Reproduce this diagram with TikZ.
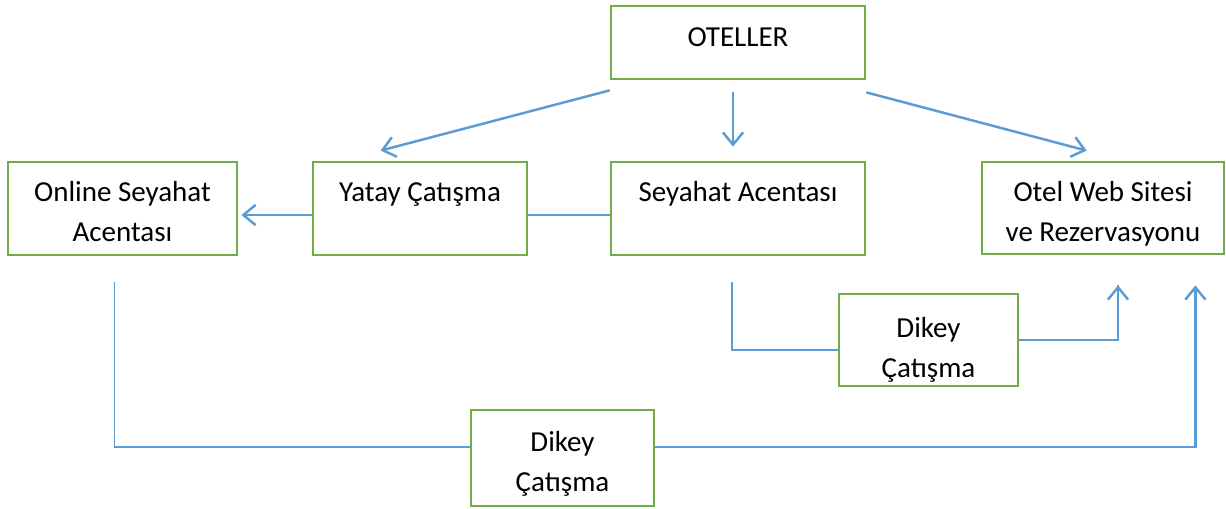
\documentclass[tikz,border=0pt]{standalone}
\usepackage{fontspec}
\setmainfont{Carlito}
\usetikzlibrary{arrows.meta,calc}

\definecolor{yesil}{RGB}{112,173,71}
\definecolor{mavi}{RGB}{91,155,213}

\tikzset{
  kutu/.style={draw=yesil,line width=1.6pt,rectangle,align=center,inner sep=0pt,
    font=\fontsize{16.5pt}{22.7pt}\selectfont},
  tekst/.style={text height=11.5pt,text depth=19.6pt},
  asagi/.style={text height=#1},
  ok/.style={draw=mavi,line width=1.4pt,-{Straight Barb[length=7pt,width=11.5pt]}},
  ince/.style={draw=mavi,line width=0.7pt}
}

\begin{document}
\begin{tikzpicture}[x=0.02cm,y=-0.02cm]
\useasboundingbox (0,0) rectangle (1226,508);
% Kutular
\node[kutu,minimum width=5.08cm,minimum height=1.46cm,text height=11.5pt,text depth=7.1pt] (otel) at (738,42.5) {OTELLER};
\node[kutu,asagi=37.6pt,minimum width=4.58cm,minimum height=1.86cm] (online) at (122.5,208.5) {Online Seyahat\\Acentası};
\node[kutu,tekst,minimum width=4.28cm,minimum height=1.86cm] (yatay) at (420,208.5) {Yatay Çatışma};
\node[kutu,tekst,minimum width=5.08cm,minimum height=1.86cm] (acenta) at (738,208.5) {Seyahat Acentası};
\node[kutu,asagi=41pt,minimum width=4.84cm,minimum height=1.84cm] (web) at (1103,208) {Otel Web Sitesi\\ve Rezervasyonu};
\node[kutu,asagi=45.5pt,minimum width=3.58cm,minimum height=1.84cm] (dikey1) at (928.5,340) {Dikey\\Çatışma};
\node[kutu,asagi=41pt,minimum width=3.66cm,minimum height=1.92cm] (dikey2) at (562.5,458) {Dikey\\Çatışma};

% Oklar
\draw[ok] ($(otel.south west)+(0,10)$) -- ($(yatay.north west)+(69,-10)$);
\draw[ok] ($(otel.south)+(-5,12)$) -- ($(acenta.north)+(-5,-14)$);
\draw[ok] ($(otel.south east)+(0,12)$) -- ($(web.north west)+(106,-10)$);
\draw[ok] ($(yatay.west)+(0,6.5)$) -- ($(online.east)+(3,6.5)$);
\draw[ince] ($(yatay.east)+(0,6.5)$) -- ($(acenta.west)+(0,6.5)$);

% Dikey baglantilar
\draw[ince] ($(acenta.south)+(-6,26)$) |- ($(dikey1.west)+(0,10)$);
\draw[ince] (dikey1.east) -| ($(web.south)+(15,30)$);
\draw[ok] ($(web.south)+(15,34)$) -- ($(web.south)+(15,30)$);
\draw[ince] ($(online.south)+(-8,26)$) |- ($(dikey2.west)+(0,-11)$);
\draw[ok] ($(dikey2.east)+(0,-11)$) -| ($(web.south east)+(-30,30)$);
\end{tikzpicture}
\end{document}
